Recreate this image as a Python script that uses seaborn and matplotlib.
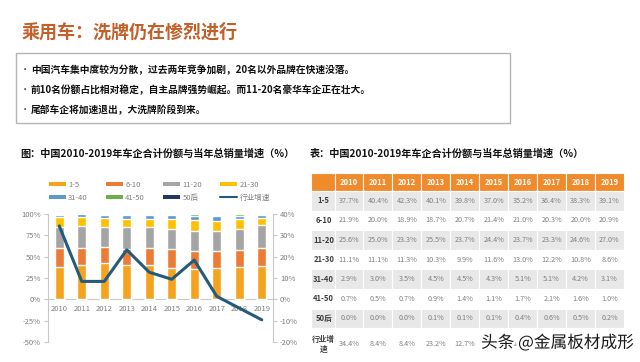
import numpy as np
import pandas as pd
import matplotlib
matplotlib.use("Agg")
import matplotlib.pyplot as plt
import seaborn as sns
from matplotlib.patches import Rectangle, Patch
from matplotlib.lines import Line2D
import matplotlib.patheffects as pe

## Data

years = [str(y) for y in range(2010, 2020)]
segments = ["1-5", "6-10", "11-20", "21-30", "31-40", "41-50", "50后"]

share_1_5 = [37.7, 40.4, 42.3, 40.1, 39.8, 37.0, 35.2, 36.4, 38.3, 39.1]
share_6_10 = [21.9, 20.0, 18.9, 18.7, 20.7, 21.4, 21.0, 20.3, 20.0, 20.9]
share_11_20 = [25.6, 25.0, 23.3, 25.5, 23.7, 24.4, 23.7, 23.3, 24.6, 27.0]
share_21_30 = [11.1, 11.1, 11.3, 10.3, 9.9, 11.6, 13.0, 12.2, 10.8, 8.6]
share_31_40 = [2.9, 3.0, 3.5, 4.5, 4.5, 4.3, 5.1, 5.1, 4.2, 3.1]
share_41_50 = [0.7, 0.5, 0.7, 0.9, 1.4, 1.1, 1.7, 2.1, 1.6, 1.0]
share_50_plus = [0.0, 0.0, 0.0, 0.1, 0.1, 0.1, 0.4, 0.6, 0.5, 0.2]
growth = [34.4, 8.4, 8.4, 23.2, 12.7, 9.4, 18.4, 1.4, -4.1, -9.6]

left_ticks = [-50, -25, 0, 25, 50, 75, 100]
right_ticks = [-20, -10, 0, 10, 20, 30, 40]

title = "乘用车：洗牌仍在惨烈进行"
bullets = [
    "中国汽车集中度较为分散，过去两年竞争加剧，20名以外品牌在快速没落。",
    "前10名份额占比相对稳定，自主品牌强势崛起。而11-20名豪华车企正在壮大。",
    "尾部车企将加速退出，大洗牌阶段到来。",
]
chart_title = "图：中国2010-2019年车企合计份额与当年总销量增速（%）"
table_title = "表：中国2010-2019年车企合计份额与当年总销量增速（%）"
growth_label = "行业增速"
watermark = "头条 @金属板材成形"

seg_colors = ["#F5A31F", "#EC7B35", "#A5A5A5", "#FFC000", "#5B9BC8", "#70AD47", "#203864"]
line_color = "#245B7C"
orange_head = "#F08A2B"

df = pd.DataFrame({
    "year": years,
    "1-5": share_1_5,
    "6-10": share_6_10,
    "11-20": share_11_20,
    "21-30": share_21_30,
    "31-40": share_31_40,
    "41-50": share_41_50,
    "50后": share_50_plus,
})
cum = df[segments].cumsum(axis=1)

## Figure setup

sns.set_theme(style="white")
plt.rcParams["font.family"] = ["Noto Sans CJK SC", "DejaVu Sans"]
plt.rcParams["axes.unicode_minus"] = False

W, H = 640, 362
fig = plt.figure(figsize=(6.4, 3.62), dpi=100)
fig.patch.set_facecolor("white")


def fx(px):
    return px / W


def fy(py):
    return 1 - py / H


## Header and bullet box

fig.text(fx(22), fy(32), title, fontsize=13, color="#C3602A", va="center", weight="bold")
fig.add_artist(Rectangle((fx(16), fy(123)), fx(510) - fx(16), (123 - 53) / H,
                         transform=fig.transFigure, fill=False,
                         edgecolor="#B5B5B5", lw=1))
for i, line in enumerate(bullets):
    y = fy(70 + 20 * i)
    fig.text(fx(21), y, "•", fontsize=6, color="#222222", va="center")
    fig.text(fx(31), y, line, fontsize=7, color="#111111", va="center", weight="bold")

fig.text(fx(20), fy(154), chart_title, fontsize=7.3, color="#111111", va="center", weight="bold")
fig.text(fx(310), fy(154), table_title, fontsize=7.3, color="#111111", va="center", weight="bold")

## Stacked bar chart

ax = fig.add_axes([fx(48), fy(342), (273 - 48) / W, (342 - 214) / H])
for seg, color in reversed(list(zip(segments, seg_colors))):
    sns.barplot(x=df["year"], y=cum[seg], color=color, width=0.42,
                saturation=1, errorbar=None, ax=ax, zorder=2)

ax.set_xlim(-0.5, 9.5)
ax.set_ylim(-50, 100)
ax.set_yticks(left_ticks)
ax.set_yticklabels([f"{v}%" for v in left_ticks])
ax.set_xticks([])
ax.set_xlabel("")
ax.set_ylabel("")
ax.axhline(0, color="#C8C8C8", lw=0.8, zorder=1)
for s in ["top", "bottom", "right"]:
    ax.spines[s].set_visible(False)
ax.spines["left"].set_color("#C8C8C8")
ax.spines["left"].set_linewidth(0.8)
ax.tick_params(axis="y", left=True, length=3, width=0.8, color="#C8C8C8",
               labelsize=5.5, labelcolor="#7F7F7F", pad=2)
for i, yr in enumerate(years):
    ax.text(i, -11, yr, ha="center", va="center", fontsize=5.5, color="#7F7F7F")

ax2 = ax.twinx()
sns.lineplot(x=np.arange(len(years)), y=growth, ax=ax2, color=line_color, lw=2.2, zorder=3)
ax2.set_xlim(-0.5, 9.5)
ax2.set_ylim(-20, 40)
ax2.set_yticks(right_ticks)
ax2.set_yticklabels([f"{v}%" for v in right_ticks])
ax2.set_ylabel("")
for s in ["top", "bottom", "left"]:
    ax2.spines[s].set_visible(False)
ax2.spines["right"].set_color("#C8C8C8")
ax2.spines["right"].set_linewidth(0.8)
ax2.tick_params(axis="y", right=True, length=3, width=0.8, color="#C8C8C8",
                labelsize=5.5, labelcolor="#7F7F7F", pad=2)

## Legend (row-wise order)

handles = [Patch(facecolor=c, edgecolor="none", label=s) for s, c in zip(segments, seg_colors)]
handles.append(Line2D([0], [0], color=line_color, lw=1.5, label=growth_label))
order = [0, 4, 1, 5, 2, 6, 3, 7]
fig.legend(handles=[handles[i] for i in order], ncol=4, loc="upper left",
           bbox_to_anchor=(fx(49), fy(181)), frameon=False, fontsize=5.5,
           handlelength=2.2, handleheight=0.5, handletextpad=0.3,
           columnspacing=2.4, labelspacing=0.6, borderpad=0, borderaxespad=0,
           labelcolor="#7F7F7F")

## Table

col_w = [23.5] + [28.95] * len(years)
row_h = [18] + [19.6] * len(segments) + [31.8]
tab_w, tab_h = sum(col_w), sum(row_h)
tax = fig.add_axes([fx(311), fy(173 + tab_h), tab_w / W, tab_h / H])
tax.set_xlim(0, tab_w)
tax.set_ylim(tab_h, 0)
tax.axis("off")

row_labels = segments + ["行业增\n速"]
row_values = [share_1_5, share_6_10, share_11_20, share_21_30,
              share_31_40, share_41_50, share_50_plus, growth]

x_edges = np.concatenate([[0], np.cumsum(col_w)])
y_edges = np.concatenate([[0], np.cumsum(row_h)])

for c in range(len(col_w)):
    tax.add_patch(Rectangle((x_edges[c], 0), col_w[c], row_h[0],
                            facecolor=orange_head, edgecolor="white", lw=0.8))
    if c > 0:
        tax.text(x_edges[c] + col_w[c] / 2, row_h[0] / 2, years[c - 1],
                 ha="center", va="center", fontsize=5.5, color="white", weight="bold")

for r, (lab, vals) in enumerate(zip(row_labels, row_values)):
    y0 = y_edges[r + 1]
    h = row_h[r + 1]
    face = "#E8E8E8" if r % 2 == 0 else "white"
    for c in range(len(col_w)):
        tax.add_patch(Rectangle((x_edges[c], y0), col_w[c], h,
                                facecolor=face, edgecolor="white", lw=0.8))
    tax.text(x_edges[0] + col_w[0] / 2 + 1, y0 + h / 2, lab, ha="center", va="center",
             fontsize=5.5, color="#404040", weight="bold", linespacing=1.1)
    for c, v in enumerate(vals):
        tax.text(x_edges[c + 1] + col_w[c + 1] / 2, y0 + h / 2, f"{v:.1f}%",
                 ha="center", va="center", fontsize=5.2, color="#808080")

## Watermark

fig.text(fx(481), fy(343), watermark, fontsize=12, color="#1A1A1A", va="center",
         path_effects=[pe.withStroke(linewidth=3.5, foreground="white")])

fig.savefig("out.png", dpi=100, facecolor="white")
